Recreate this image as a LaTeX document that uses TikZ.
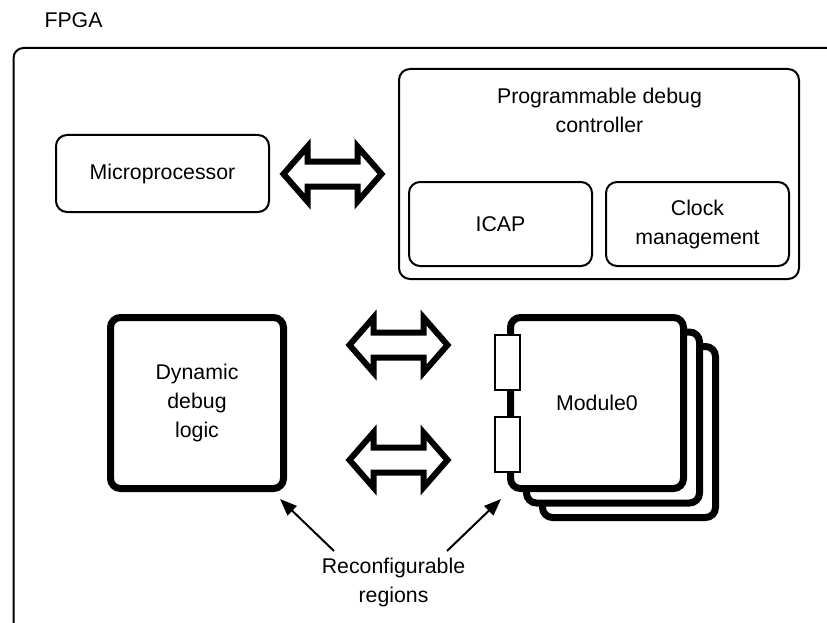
\documentclass[tikz,border=0pt]{standalone}
\usepackage{fontspec}
\setmainfont{Liberation Sans}
\usetikzlibrary{arrows.meta}

\begin{document}
\begin{tikzpicture}[x=1pt, y=-1pt,
  every node/.style={font=\fontsize{21.3}{29}\selectfont, align=center, inner sep=0pt},
  box/.style={draw, line width=2pt, rounded corners=11pt, fill=white},
  thickbox/.style={draw, line width=7pt, rounded corners=10pt, fill=white, minimum width=173pt, minimum height=171pt},
  port/.style={draw, line width=1.5pt, fill=white, minimum width=25pt, minimum height=55pt},
  pointer/.style={line width=2pt, -{Triangle[length=17pt, width=13pt]}},
  bigarrow/.pic={\draw[line width=6pt, miter limit=10, fill=white]
    (-49,0) -- (-25,-27.5) -- (-25,-12.5) -- (25,-12.5) -- (25,-27.5) -- (49,0)
    -- (25,27.5) -- (25,12.5) -- (-25,12.5) -- (-25,27.5) -- cycle;}]
\useasboundingbox (0,0) rectangle (827,623);
\clip (0,0) rectangle (827,623);

% FPGA frame
\node (fpga) at (73.5,20.5) {FPGA};
\draw[line width=2pt, rounded corners=10pt] (13.5,48) rectangle (840,632);

% top row
\node[box, minimum width=213pt, minimum height=77pt] (micro) at (162.5,173.5) {Microprocessor};
\node[box, minimum width=400pt, minimum height=210pt] (pdc) at (599,174) {};
\node (pdclabel) at (599.5,110) {Programmable debug\\controller};
\node[box, minimum width=183pt, minimum height=84pt] (icap) at (500.5,224) {ICAP};
\node[box, minimum width=183pt, minimum height=84pt] (clock) at (697.5,224) {Clock\\management};
\pic (arr1) at (332.5,174) {bigarrow};

% reconfigurable regions
\node[thickbox] (dbg) at (197,403) {Dynamic\\debug\\logic};
\node[thickbox] (mod2) at (629,432) {};
\node[thickbox] (mod1) at (613,417.5) {};
\node[thickbox] (mod0) at (597,403) {Module0};
\node[port] (port1) at (507.5,362.5) {};
\node[port] (port2) at (507.5,444.5) {};
\pic (arr2) at (398.5,345) {bigarrow};
\pic (arr3) at (398.5,460) {bigarrow};

% labels
\node (recfg) at (393.5,582.5) {Reconfigurable\\regions};
\coordinate (t1) at (334,551);
\coordinate (t2) at (447,551);
\coordinate (p1) at (280,499);
\coordinate (p2) at (501,499);
\draw[pointer] (t1) -- (p1);
\draw[pointer] (t2) -- (p2);
\end{tikzpicture}
\end{document}
